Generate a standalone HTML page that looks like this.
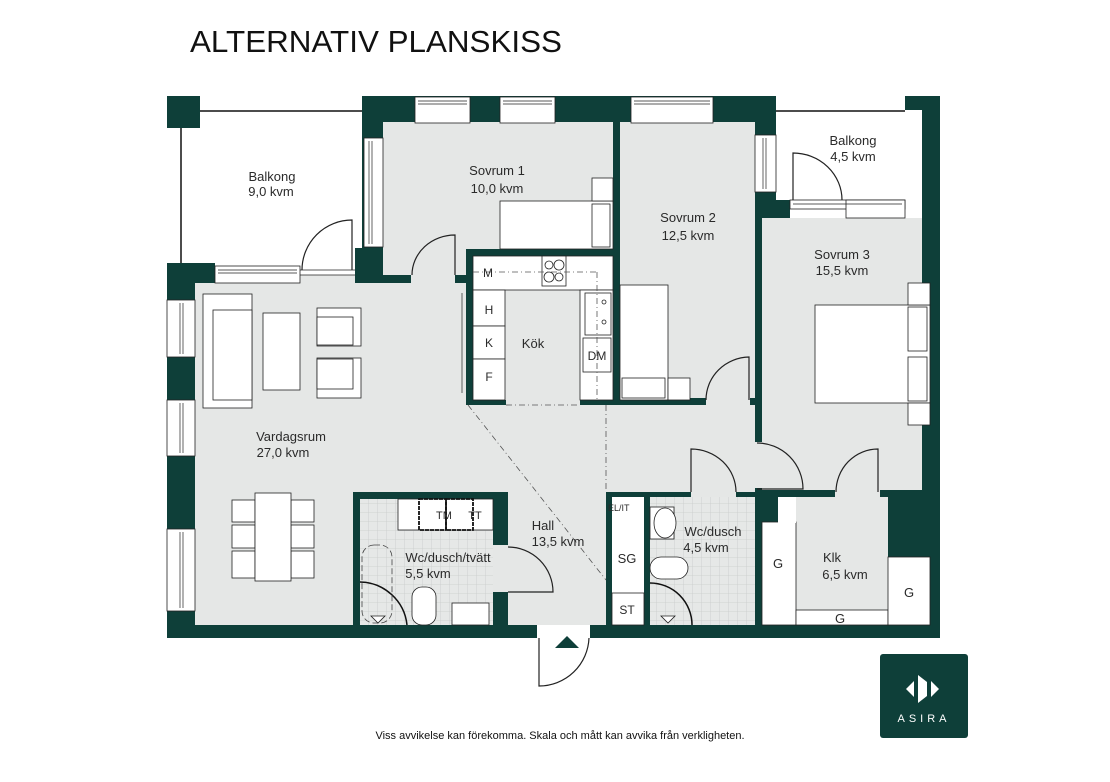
<!DOCTYPE html>
<html><head><meta charset="utf-8"><style>
html,body{margin:0;padding:0;background:#fff;}
svg{display:block;}
text{font-family:"Liberation Sans",sans-serif;fill:#2a2a2a;}
</style></head><body>
<svg width="1110" height="782" viewBox="0 0 1110 782" xmlns="http://www.w3.org/2000/svg">
<defs>
<pattern id="tile" width="9" height="9" patternUnits="userSpaceOnUse">
<rect width="9" height="9" fill="#e6e8e7"/>
<path d="M9 0V9M0 9H9" stroke="#c9cccb" stroke-width="0.8"/>
</pattern>
</defs>
<text x="190" y="52" font-size="31" textLength="372" lengthAdjust="spacingAndGlyphs" style="fill:#111">ALTERNATIV PLANSKISS</text>

<!-- gray floors -->
<g fill="#e5e7e6">
<rect x="383" y="122" width="372" height="283"/>
<rect x="195" y="275" width="271" height="350"/>
<rect x="466" y="400" width="289" height="225"/>
<rect x="755" y="218" width="175" height="280"/>
<rect x="755" y="492" width="175" height="133"/>
</g>

<!-- balcony lines -->
<g stroke="#111" stroke-width="1.5" fill="none">
<line x1="200" y1="111" x2="362" y2="111"/>
<line x1="181" y1="128" x2="181" y2="263"/>
<line x1="776" y1="111" x2="905" y2="111"/>
</g>

<!-- walls -->
<g fill="#0e3f39">
<rect x="167" y="263" width="28" height="375"/>
<rect x="167" y="625" width="370" height="13"/>
<rect x="590" y="625" width="350" height="13"/>
<rect x="922" y="96" width="18" height="542"/>
<rect x="905" y="96" width="20" height="14"/>
<rect x="930" y="218" width="10" height="420"/>
<rect x="167" y="96" width="33" height="32"/>
<rect x="362" y="96" width="414" height="26"/>
<rect x="362" y="96" width="21" height="187"/>
<rect x="167" y="263" width="48" height="20"/>
<rect x="355" y="248" width="28" height="35"/>
<rect x="383" y="275" width="28" height="8"/>
<rect x="455" y="275" width="11" height="8"/>
<rect x="466" y="249" width="147" height="7"/>
<rect x="466" y="249" width="7" height="156"/>
<rect x="466" y="400" width="40" height="5"/>
<rect x="580" y="400" width="40" height="5"/>
<rect x="613" y="122" width="7" height="283"/>
<rect x="620" y="398" width="86" height="7"/>
<rect x="750" y="398" width="5" height="7"/>
<rect x="755" y="96" width="21" height="122"/>
<rect x="755" y="200" width="35" height="18"/>
<rect x="755" y="218" width="7" height="224"/>
<rect x="755" y="488" width="7" height="137"/>
<rect x="755" y="492" width="23" height="30"/>
<rect x="762" y="490" width="73" height="7"/>
<rect x="880" y="490" width="50" height="7"/>
<rect x="888" y="490" width="42" height="67"/>
<rect x="353" y="492" width="155" height="7"/>
<rect x="353" y="492" width="7" height="133"/>
<rect x="493" y="492" width="15" height="53"/>
<rect x="493" y="592" width="15" height="33"/>
<rect x="606" y="492" width="6" height="133"/>
<rect x="644" y="492" width="6" height="133"/>
<rect x="606" y="492" width="85" height="5"/>
<rect x="736" y="492" width="19" height="5"/>
</g>

<!-- windows -->
<g fill="#fff" stroke="#222" stroke-width="0.8">
<rect x="415" y="97" width="55" height="26"/>
<rect x="500" y="97" width="55" height="26"/>
<rect x="631" y="97" width="82" height="26"/>
<rect x="364" y="138" width="19" height="109"/>
<rect x="755" y="135" width="21" height="57"/>
<rect x="215" y="266" width="85" height="17"/>
<rect x="790" y="200" width="115" height="9"/>
<rect x="846" y="200" width="59" height="18"/>
<rect x="167" y="300" width="28" height="57"/>
<rect x="167" y="400" width="28" height="56"/>
<rect x="167" y="529" width="28" height="82"/>
<rect x="537" y="625" width="53" height="13" stroke="none"/>
</g>
<g stroke="#222" stroke-width="0.7" fill="none">
<line x1="418" y1="101" x2="467" y2="101"/><line x1="418" y1="104" x2="467" y2="104"/>
<line x1="503" y1="101" x2="552" y2="101"/><line x1="503" y1="104" x2="552" y2="104"/>
<line x1="634" y1="101" x2="710" y2="101"/><line x1="634" y1="104" x2="710" y2="104"/>
<line x1="369" y1="141" x2="369" y2="244"/><line x1="372" y1="141" x2="372" y2="244"/>
<line x1="763" y1="138" x2="763" y2="189"/><line x1="766" y1="138" x2="766" y2="189"/>
<line x1="218" y1="270" x2="297" y2="270"/><line x1="218" y1="273" x2="297" y2="273"/>
<line x1="300" y1="270" x2="355" y2="270"/><line x1="300" y1="275" x2="355" y2="275"/>
<line x1="180" y1="303" x2="180" y2="354"/><line x1="183" y1="303" x2="183" y2="354"/>
<line x1="180" y1="403" x2="180" y2="453"/><line x1="183" y1="403" x2="183" y2="453"/>
<line x1="180" y1="532" x2="180" y2="608"/><line x1="183" y1="532" x2="183" y2="608"/>
<line x1="793" y1="204" x2="902" y2="204"/>
<line x1="462" y1="293" x2="462" y2="393"/>
</g>

<!-- doors -->
<g stroke="#222" stroke-width="1.2" fill="none">
<path d="M352 270 L352 220 A50 50 0 0 0 302 270"/>
<path d="M455 275 L455 235 A43 40 0 0 0 412 275"/>
<path d="M749 400 L749 357 A44 43 0 0 0 706 400"/>
<path d="M793 200 L793 153 A49 47 0 0 1 842 200"/>
<path d="M691 492 L691 449 A45 43 0 0 1 736 492"/>
<path d="M878 492 L878 449 A42 43 0 0 0 836 492"/>
<path d="M757 443 A46 46 0 0 1 803 489 L757 489"/>
<path d="M508 547 A45 45 0 0 1 553 592 L508 592"/>
<path d="M539 638 L539 686 A50 50 0 0 0 589 638"/>
</g>
<polygon points="555,648 567,636 579,648" fill="#0e3f39"/>

<!-- kitchen -->
<g fill="#fff" stroke="#222" stroke-width="0.8">
<rect x="473" y="256" width="140" height="34"/>
<rect x="542" y="256" width="24" height="30"/>
<rect x="473" y="290" width="32" height="36"/>
<rect x="473" y="326" width="32" height="33"/>
<rect x="473" y="359" width="32" height="41"/>
<rect x="580" y="290" width="33" height="110"/>
<rect x="585" y="293" width="26" height="42"/>
<rect x="583" y="338" width="28" height="34"/>
</g>
<g stroke="#222" stroke-width="0.8" fill="none">
<circle cx="549" cy="265" r="4"/><circle cx="559" cy="265" r="5"/>
<circle cx="549" cy="277" r="5"/><circle cx="559" cy="277" r="4"/>
<circle cx="604" cy="302" r="2"/><circle cx="604" cy="322" r="2"/>
</g>
<g stroke="#555" stroke-width="0.8" fill="none" stroke-dasharray="6 3 1 3">
<line x1="473" y1="272" x2="597" y2="272"/>
<line x1="597" y1="272" x2="597" y2="400"/>
<line x1="506" y1="405" x2="580" y2="405"/>
<line x1="468" y1="405" x2="606" y2="580"/>
<line x1="606" y1="405" x2="606" y2="492"/>
<line x1="360" y1="622" x2="460" y2="515"/>
<line x1="652" y1="622" x2="750" y2="500"/>
<line x1="765" y1="622" x2="795" y2="500"/>
</g>
<text x="488" y="277" font-size="12" text-anchor="middle">M</text>
<text x="489" y="314" font-size="12" text-anchor="middle">H</text>
<text x="489" y="347" font-size="12" text-anchor="middle">K</text>
<text x="489" y="381" font-size="12" text-anchor="middle">F</text>
<text x="597" y="360" font-size="12" text-anchor="middle">DM</text>
<text x="533" y="348" font-size="13" text-anchor="middle">Kök</text>

<!-- furniture -->
<g fill="#fff" stroke="#222" stroke-width="0.8">
<rect x="203" y="294" width="49" height="114"/>
<rect x="213" y="310" width="39" height="90"/>
<rect x="263" y="313" width="37" height="77"/>
<rect x="317" y="308" width="44" height="38"/><rect x="317" y="317" width="36" height="28"/>
<rect x="317" y="358" width="44" height="40"/><rect x="317" y="359" width="36" height="30"/>
<rect x="232" y="500" width="23" height="22"/><rect x="232" y="525" width="23" height="23"/><rect x="232" y="551" width="23" height="27"/>
<rect x="291" y="500" width="23" height="22"/><rect x="291" y="525" width="23" height="23"/><rect x="291" y="551" width="23" height="27"/>
<rect x="255" y="493" width="36" height="88"/>
<rect x="500" y="201" width="113" height="48"/>
<rect x="592" y="204" width="18" height="43"/>
<rect x="592" y="178" width="21" height="23"/>
<rect x="620" y="285" width="48" height="115"/>
<rect x="622" y="378" width="43" height="20"/>
<rect x="668" y="378" width="22" height="22"/>
<rect x="815" y="305" width="115" height="98"/>
<rect x="908" y="283" width="22" height="22"/>
<rect x="908" y="403" width="22" height="22"/>
<rect x="908" y="307" width="19" height="44"/>
<rect x="908" y="357" width="19" height="44"/>
</g>

<!-- bath 1 -->
<rect x="360" y="499" width="133" height="126" fill="url(#tile)"/>
<g fill="#fff" stroke="#222" stroke-width="0.8">
<rect x="398" y="499" width="95" height="31"/>
<rect x="412" y="587" width="24" height="38" rx="10"/>
<rect x="452" y="603" width="37" height="22"/>
</g>
<g fill="none" stroke="#111" stroke-width="1.8">
<rect x="419" y="499" width="27" height="31" stroke-dasharray="4 1"/>
<rect x="446" y="499" width="27" height="31" stroke-dasharray="4 1"/>
</g>
<path d="M360 582 A48 48 0 0 1 407 625" fill="none" stroke="#111" stroke-width="1.5"/>
<rect x="362" y="545" width="30" height="78" rx="12" fill="none" stroke="#444" stroke-width="0.8" stroke-dasharray="6 3"/>
<text x="444" y="519" font-size="11" text-anchor="middle">TM</text>
<text x="475" y="519" font-size="11" text-anchor="middle">TT</text>
<polygon points="371,616 385,616 378,623" fill="#fff" stroke="#222" stroke-width="0.8"/>

<!-- SG closet -->
<rect x="612" y="497" width="32" height="128" fill="#fff"/>
<rect x="612" y="593" width="32" height="32" fill="#fff" stroke="#222" stroke-width="0.8"/>
<text x="608" y="511" font-size="9">EL/IT</text>
<text x="627" y="563" font-size="13" text-anchor="middle">SG</text>
<text x="627" y="614" font-size="12" text-anchor="middle">ST</text>

<!-- wc 2 -->
<rect x="650" y="497" width="105" height="128" fill="url(#tile)"/>
<g fill="#fff" stroke="#222" stroke-width="0.8">
<rect x="650" y="507" width="24" height="32"/>
<ellipse cx="665" cy="523" rx="11" ry="15"/>
<rect x="650" y="557" width="38" height="22" rx="11"/>
</g>
<path d="M650 583 A42 42 0 0 1 692 625" fill="none" stroke="#111" stroke-width="1.5"/>
<polygon points="661,616 675,616 668,623" fill="#fff" stroke="#222" stroke-width="0.8"/>

<!-- klk -->
<g fill="#fff" stroke="#222" stroke-width="0.8">
<rect x="762" y="522" width="34" height="103"/>
<rect x="778" y="497" width="18" height="26" stroke="none"/>
<rect x="796" y="610" width="92" height="15"/>
<rect x="888" y="557" width="42" height="68"/>
</g>

<!-- labels -->
<g font-size="13" text-anchor="middle">
<text x="272" y="181">Balkong</text><text x="271" y="196">9,0 kvm</text>
<text x="497" y="175">Sovrum 1</text><text x="497" y="193">10,0 kvm</text>
<text x="688" y="222">Sovrum 2</text><text x="688" y="240">12,5 kvm</text>
<text x="853" y="145">Balkong</text><text x="853" y="161">4,5 kvm</text>
<text x="842" y="259">Sovrum 3</text><text x="842" y="275">15,5 kvm</text>
<text x="291" y="441">Vardagsrum</text><text x="283" y="457">27,0 kvm</text>
<text x="543" y="530">Hall</text><text x="558" y="546">13,5 kvm</text>
<text x="448" y="562">Wc/dusch/tvätt</text><text x="428" y="578">5,5 kvm</text>
<text x="713" y="536">Wc/dusch</text><text x="706" y="552">4,5 kvm</text>
<text x="832" y="562">Klk</text><text x="845" y="579">6,5 kvm</text>
<text x="778" y="568">G</text><text x="909" y="597">G</text><text x="840" y="623">G</text>
</g>

<text x="560" y="739" font-size="11" text-anchor="middle" style="fill:#111">Viss avvikelse kan förekomma. Skala och mått kan avvika från verkligheten.</text>

<!-- logo -->
<rect x="880" y="654" width="88" height="84" rx="3" fill="#0e3f39"/>
<g fill="#fff">
<polygon points="906,689 914,681 914,697"/>
<polygon points="918,675 927,682 927,696 918,703"/>
<polygon points="931,681 939,689 931,697"/>
</g>
<text x="924" y="722" font-size="11" text-anchor="middle" letter-spacing="4" style="fill:#fff">ASIRA</text>
</svg>
</body></html>
